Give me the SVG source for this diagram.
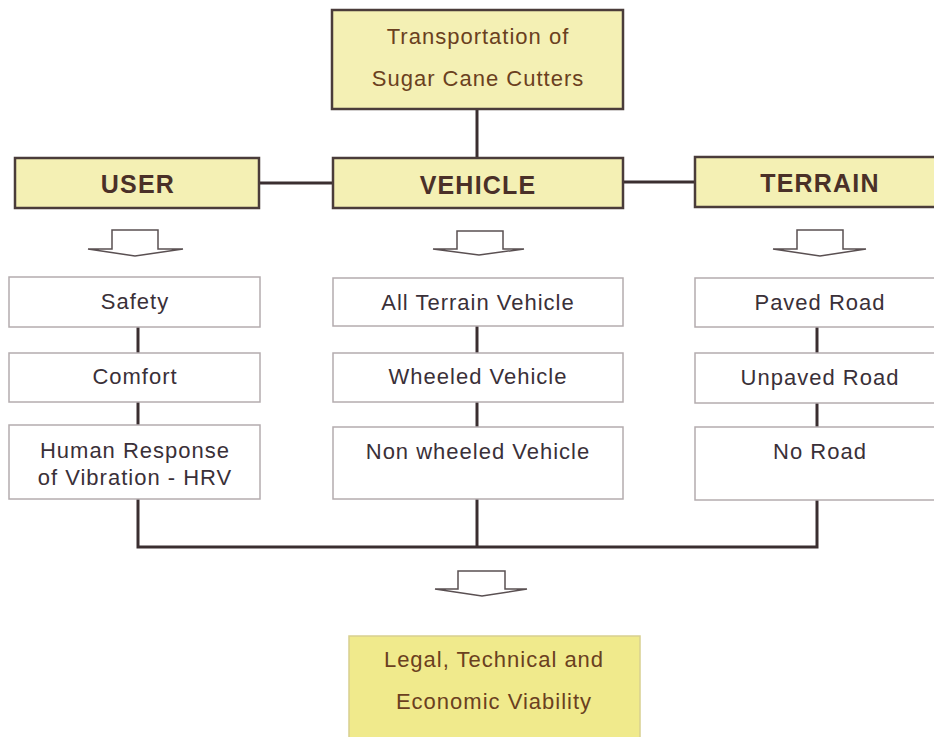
<svg xmlns="http://www.w3.org/2000/svg" width="934" height="737" viewBox="0 0 934 737">
<style>
  .ybox { fill: #f4f0b4; stroke: #4a3c3a; stroke-width: 2.5; }
  .ybox2 { fill: #f0ea8c; stroke: #d8d090; stroke-width: 1.5; }
  .sbox { fill: #ffffff; stroke: #b4acae; stroke-width: 1.5; }
  .t { font-family: "Liberation Sans", Arial, sans-serif; font-size: 22px; text-anchor: middle; letter-spacing: 1px; }
  .tb { fill: #6a4020; }
  .hd { font-family: "Liberation Sans", Arial, sans-serif; font-size: 25px; font-weight: bold; text-anchor: middle; letter-spacing: 1.2px; fill: #4a3028; }
  .st { fill: #3a3038; }
  .conn { fill: none; stroke: #3a2e30; stroke-width: 3; }
  .arr { fill: #ffffff; stroke: #5a5052; stroke-width: 1.5; stroke-linejoin: miter; }
</style>
<rect width="934" height="737" fill="#ffffff"/>

<g id="connectors">
  <line class="conn" x1="477" y1="109" x2="477" y2="158"/>
  <line class="conn" x1="259" y1="183" x2="333" y2="183"/>
  <line class="conn" x1="623" y1="182" x2="695" y2="182"/>
  <line class="conn" x1="138" y1="327" x2="138" y2="353"/>
  <line class="conn" x1="138" y1="402" x2="138" y2="425"/>
  <line class="conn" x1="477" y1="326" x2="477" y2="353"/>
  <line class="conn" x1="477" y1="402" x2="477" y2="427"/>
  <line class="conn" x1="817" y1="327" x2="817" y2="353"/>
  <line class="conn" x1="817" y1="403" x2="817" y2="427"/>
  <polyline class="conn" points="138,499 138,547 817,547 817,500"/>
  <line class="conn" x1="477" y1="499" x2="477" y2="547"/>
</g>

<g id="arrows">
  <polygon class="arr" points="112,230 158,230 158,249 183,249 135,256 88,249 112,249"/>
  <polygon class="arr" points="457,231 503,231 503,249 524,249 479,255 433,249 457,249"/>
  <polygon class="arr" points="797,230 843,230 843,249 866,249 820,256 773,249 797,249"/>
  <polygon class="arr" points="458,571 505,571 505,589 527,589 482,596 435,589 458,589"/>
</g>

<g id="top">
  <rect class="ybox" x="332" y="10" width="291" height="99"/>
  <text class="t tb" x="478" y="44">Transportation of</text>
  <text class="t tb" x="478" y="86">Sugar Cane Cutters</text>
</g>

<g id="user">
  <rect class="ybox" x="15" y="158" width="244" height="50"/>
  <text class="hd" x="138" y="193">USER</text>
</g>
<g id="vehicle">
  <rect class="ybox" x="333" y="158" width="290" height="50"/>
  <text class="hd" x="478" y="194">VEHICLE</text>
</g>
<g id="terrain">
  <rect class="ybox" x="695" y="157" width="250" height="50"/>
  <text class="hd" x="820" y="192">TERRAIN</text>
</g>

<g id="safety">
  <rect class="sbox" x="9" y="277" width="251" height="50"/>
  <text class="t st" x="135" y="309">Safety</text>
</g>
<g id="comfort">
  <rect class="sbox" x="9" y="353" width="251" height="49"/>
  <text class="t st" x="135" y="384">Comfort</text>
</g>
<g id="hrv">
  <rect class="sbox" x="9" y="425" width="251" height="74"/>
  <text class="t st" x="135" y="458">Human Response</text>
  <text class="t st" x="135" y="485">of Vibration - HRV</text>
</g>

<g id="atv">
  <rect class="sbox" x="333" y="278" width="290" height="48"/>
  <text class="t st" x="478" y="310">All Terrain Vehicle</text>
</g>
<g id="wheeled">
  <rect class="sbox" x="333" y="353" width="290" height="49"/>
  <text class="t st" x="478" y="384">Wheeled Vehicle</text>
</g>
<g id="nonwheeled">
  <rect class="sbox" x="333" y="427" width="290" height="72"/>
  <text class="t st" x="478" y="459">Non wheeled Vehicle</text>
</g>

<g id="paved">
  <rect class="sbox" x="695" y="278" width="250" height="49"/>
  <text class="t st" x="820" y="310">Paved Road</text>
</g>
<g id="unpaved">
  <rect class="sbox" x="695" y="353" width="250" height="50"/>
  <text class="t st" x="820" y="385">Unpaved Road</text>
</g>
<g id="noroad">
  <rect class="sbox" x="695" y="427" width="250" height="73"/>
  <text class="t st" x="820" y="459">No Road</text>
</g>

<g id="viability">
  <rect class="ybox2" x="349" y="636" width="291" height="110"/>
  <text class="t tb" x="494" y="667">Legal, Technical and</text>
  <text class="t tb" x="494" y="709">Economic Viability</text>
</g>
</svg>
